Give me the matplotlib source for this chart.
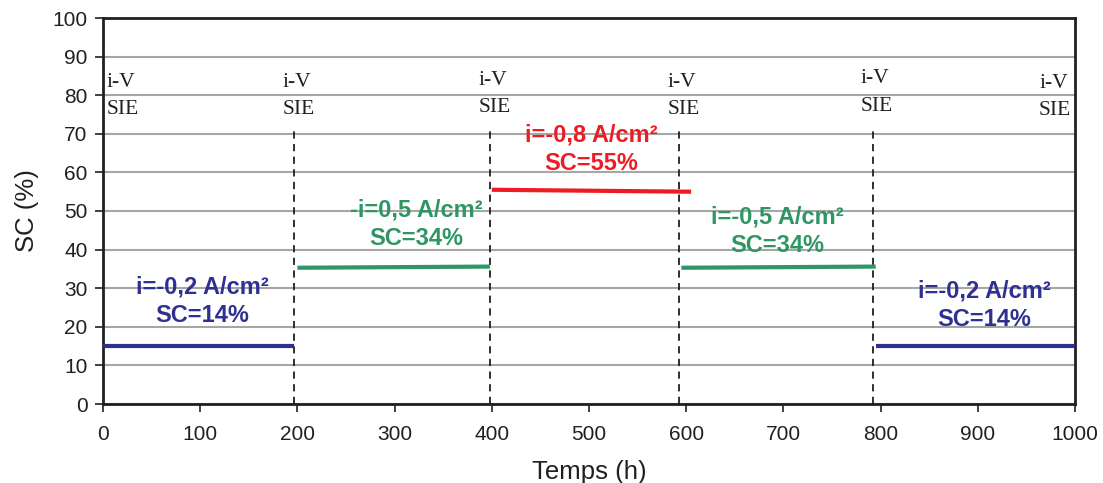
import matplotlib
matplotlib.use("Agg")
import matplotlib.pyplot as plt

# Data
seg_x_start = [0, 200, 400, 595, 795]
seg_x_end = [196, 398, 605, 795, 1000]
seg_y_start = [15.0, 35.3, 55.5, 35.3, 15.0]
seg_y_end = [15.0, 35.6, 55.0, 35.6, 15.0]
seg_colors = ["#2E3192", "#2E9663", "#ED1C24", "#2E9663", "#2E3192"]

dash_x = [196, 398, 593, 792]
dash_top = [71, 71, 71, 71]

iv_x = [4, 185, 386, 581, 779, 963]
iv_y_top = [83.4, 83.4, 83.9, 83.4, 84.2, 83]

ann_x = [102, 322, 502, 694, 907]
ann_y = [26.7, 46.5, 66, 44.7, 25.6]
ann_text = ["i=-0,2 A/cm²\nSC=14%", "-i=0,5 A/cm²\nSC=34%", "i=-0,8 A/cm²\nSC=55%",
            "i=-0,5 A/cm²\nSC=34%", "i=-0,2 A/cm²\nSC=14%"]

xticks = [0, 100, 200, 300, 400, 500, 600, 700, 800, 900, 1000]
yticks = [0, 10, 20, 30, 40, 50, 60, 70, 80, 90, 100]

plt.rcParams['font.family'] = ['Liberation Sans', 'DejaVu Sans']

fig = plt.figure(figsize=(11.03, 4.83), dpi=100)
ax = fig.add_axes([103/1103, 1 - 404/483, (1075 - 103)/1103, (404 - 18)/483])

ax.set_xlim(0, 1000)
ax.set_ylim(0, 100)
ax.set_xticks(xticks)
ax.set_yticks(yticks)
ax.tick_params(labelsize=15, direction='out', length=6, width=1.2, color='#231f20', labelcolor='#231f20')
ax.tick_params(axis='x', pad=9)
ax.tick_params(axis='y', pad=5)
ax.yaxis.grid(True, color='#a6a6a6', linewidth=1.5)
ax.set_axisbelow(True)
for s in ax.spines.values():
    s.set_linewidth(2)
    s.set_color('#231f20')

for x0, x1, y0, y1, c in zip(seg_x_start, seg_x_end, seg_y_start, seg_y_end, seg_colors):
    ax.plot([x0, x1], [y0, y1], color=c, linewidth=3, solid_capstyle='butt', zorder=3)

for x, t in zip(dash_x, dash_top):
    ax.plot([x, x], [0, t], color='#231f20', linewidth=1.3, linestyle=(0, (4, 3)), zorder=2)

for x, y in zip(iv_x, iv_y_top):
    ax.text(x, y, "i-V", family='Liberation Serif', fontsize=15.5, color='#231f20', va='center', ha='left')
    ax.text(x, y - 7.0, "SIE", family='Liberation Serif', fontsize=15.5, color='#231f20', va='center', ha='left')

for x, y, t, c in zip(ann_x, ann_y, ann_text, seg_colors):
    ax.text(x, y, t, fontsize=17, fontweight='bold', color=c, ha='center', va='center', linespacing=1.3)

ax.set_xlabel("Temps (h)", fontsize=18.5, color='#231f20', labelpad=12)
ax.set_ylabel("SC (%)", fontsize=18.5, color='#231f20', labelpad=10)

fig.savefig("out.png", dpi=100)
